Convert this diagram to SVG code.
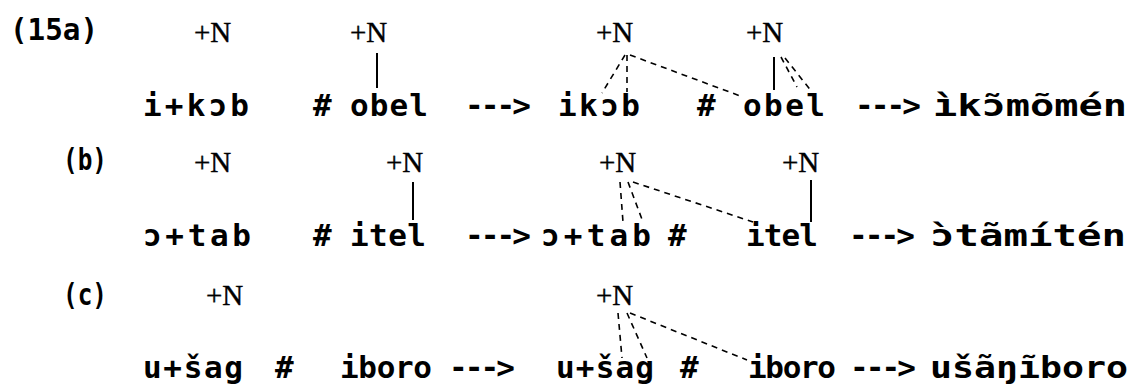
<svg xmlns="http://www.w3.org/2000/svg" width="1132" height="389" viewBox="0 0 1132 389">
<style>
.m{font-family:"DejaVu Sans Mono","Liberation Mono",monospace;font-weight:bold;font-size:31px;fill:#000}
.n{font-family:"Liberation Serif","DejaVu Serif",serif;font-size:29px;fill:#000;stroke:#000;stroke-width:0.4}
.s{stroke:#000;stroke-width:2;fill:none}
.d{stroke:#000;stroke-width:1.6;fill:none;stroke-dasharray:6 5}
</style>
<rect width="1132" height="389" fill="#fff"/>
<g id="labels">
<text class="m" x="10" y="40" textLength="88" lengthAdjust="spacingAndGlyphs">(15a)</text>
<text class="m" x="63" y="170" textLength="44" lengthAdjust="spacingAndGlyphs">(b)</text>
<text class="m" x="63" y="305" textLength="44" lengthAdjust="spacingAndGlyphs">(c)</text>
</g>
<g id="row-a">
<text class="n" x="194" y="42">+N</text>
<text class="n" x="350" y="42">+N</text>
<text class="n" x="596" y="42">+N</text>
<text class="n" x="746" y="42">+N</text>
<text class="m" x="143" y="116" textLength="106" lengthAdjust="spacing">i+kɔb</text>
<text class="m" x="313" y="116">#</text>
<text class="m" x="350" y="116" textLength="78" lengthAdjust="spacing">obel</text>
<text class="m" x="465" y="116" textLength="66" lengthAdjust="spacing">---&gt;</text>
<text class="m" x="558" y="116" textLength="82" lengthAdjust="spacing">ikɔb</text>
<text class="m" x="697" y="116">#</text>
<text class="m" x="743" y="116" textLength="82" lengthAdjust="spacing">obel</text>
<text class="m" x="855" y="116" textLength="66" lengthAdjust="spacing">---&gt;</text>
<text class="m" x="933" y="116" textLength="194" lengthAdjust="spacingAndGlyphs">ìkɔ̃mõmén</text>
</g>
<g id="row-b">
<text class="n" x="194" y="172">+N</text>
<text class="n" x="386" y="172">+N</text>
<text class="n" x="599" y="172">+N</text>
<text class="n" x="782" y="172">+N</text>
<text class="m" x="143" y="246" textLength="108" lengthAdjust="spacing">ɔ+tab</text>
<text class="m" x="313" y="246">#</text>
<text class="m" x="350" y="246" textLength="76" lengthAdjust="spacing">itel</text>
<text class="m" x="465" y="246" textLength="66" lengthAdjust="spacing">---&gt;</text>
<text class="m" x="541" y="246" textLength="110" lengthAdjust="spacing">ɔ+tab</text>
<text class="m" x="668" y="246">#</text>
<text class="m" x="746" y="246" textLength="72" lengthAdjust="spacing">itel</text>
<text class="m" x="849" y="246" textLength="66" lengthAdjust="spacing">---&gt;</text>
<text class="m" x="930" y="246" textLength="196" lengthAdjust="spacingAndGlyphs">ɔ̀tãmítén</text>
</g>
<g id="row-c">
<text class="n" x="206" y="305">+N</text>
<text class="n" x="596" y="305">+N</text>
<text class="m" x="143" y="378" textLength="100" lengthAdjust="spacing">u+šag</text>
<text class="m" x="275" y="378">#</text>
<text class="m" x="340" y="378" textLength="92" lengthAdjust="spacing">iboro</text>
<text class="m" x="449" y="378" textLength="66" lengthAdjust="spacing">---&gt;</text>
<text class="m" x="556" y="378" textLength="98" lengthAdjust="spacing">u+šag</text>
<text class="m" x="680" y="378">#</text>
<text class="m" x="748" y="378" textLength="88" lengthAdjust="spacing">iboro</text>
<text class="m" x="850" y="378" textLength="66" lengthAdjust="spacing">---&gt;</text>
<text class="m" x="930" y="378" textLength="198" lengthAdjust="spacingAndGlyphs">ušãŋĩboro</text>
</g>
<g id="connectors">
<line class="s" x1="377" y1="53" x2="377" y2="88"/>
<line class="d" x1="625" y1="55" x2="602" y2="93"/>
<line class="d" x1="627" y1="55" x2="627" y2="92"/>
<line class="d" x1="630" y1="55" x2="743" y2="97"/>
<line class="s" x1="774" y1="57" x2="774" y2="90"/>
<line class="d" x1="781" y1="57" x2="797" y2="87"/>
<line class="d" x1="785" y1="58" x2="812" y2="92"/>
<line class="s" x1="413" y1="182" x2="413" y2="220"/>
<line class="d" x1="620" y1="182" x2="623" y2="222"/>
<line class="d" x1="628" y1="182" x2="643" y2="222"/>
<line class="d" x1="633" y1="182" x2="753" y2="222"/>
<line class="s" x1="811" y1="180" x2="811" y2="222"/>
<line class="d" x1="618" y1="313" x2="622" y2="358"/>
<line class="d" x1="627" y1="313" x2="647" y2="358"/>
<line class="d" x1="630" y1="313" x2="747" y2="360"/>
</g>
</svg>
